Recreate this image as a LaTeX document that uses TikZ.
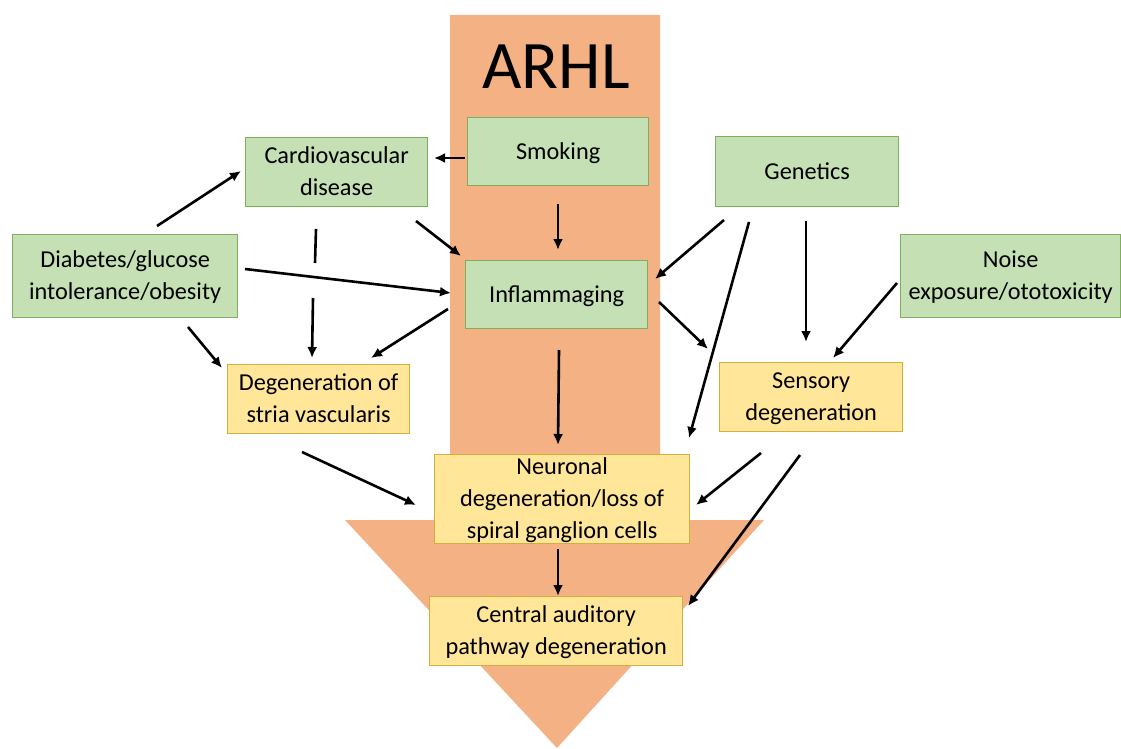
\documentclass[tikz,border=0pt]{standalone}
\usepackage{fontspec}
\setmainfont{Carlito}
\usetikzlibrary{arrows.meta}
\definecolor{arrowfill}{HTML}{F4B183}
\definecolor{greenfill}{HTML}{C5E0B4}
\definecolor{greenline}{HTML}{7FAF5A}
\definecolor{yellowfill}{HTML}{FFE699}
\definecolor{yellowline}{HTML}{D4AE3A}
\begin{document}
\begin{tikzpicture}[x=1pt,y=-1pt,
  box/.style={draw, line width=1.3pt, inner sep=0pt, align=center,
    font=\fontsize{24.3}{32}\selectfont, anchor=north west, text depth=2pt},
  gbox/.style={box, fill=greenfill, draw=greenline},
  ybox/.style={box, fill=yellowfill, draw=yellowline},
  conn/.style={line width=2.6pt, -{Latex[length=11pt,width=10pt]}},
  plain/.style={line width=2.6pt}]
\useasboundingbox (0,0) rectangle (1121,749);
% big background arrow
\fill[arrowfill] (450,15) -- (660,15) -- (660,520) -- (764,520) -- (557,748)
  -- (345,520) -- (450,520) -- cycle;
\node (arhl) at (556,67) {\fontsize{68}{80}\selectfont ARHL};
% boxes
\node[gbox, minimum width=181pt, minimum height=68pt] (smoking) at (467,117) {Smoking};
\node[gbox, minimum width=182pt, minimum height=69pt] (cardio) at (245,137) {Cardiovascular\\disease};
\node[gbox, minimum width=225pt, minimum height=83pt] (diab) at (12,234) {Diabetes/glucose\\intolerance/obesity};
\node[ybox, minimum width=182pt, minimum height=69pt] (stria) at (227,364) {Degeneration of\\stria vascularis};
\node[gbox, minimum width=182pt, minimum height=68pt] (inflam) at (465,260) {Inflammaging};
\node[gbox, minimum width=183pt, minimum height=70pt] (genetics) at (715,136) {Genetics};
\node[gbox, minimum width=220pt, minimum height=83pt] (noise) at (900,234) {Noise\\exposure/ototoxicity};
\node[ybox, minimum width=183pt, minimum height=69pt] (sensory) at (719,362) {Sensory\\degeneration};
\node[ybox, minimum width=255pt, minimum height=89pt] (neuronal) at (434,454) {Neuronal\\degeneration/loss of\\spiral ganglion cells};
\node[ybox, minimum width=253pt, minimum height=69pt] (central) at (429,596) {Central auditory\\pathway degeneration};
% connector end points
\coordinate (smA) at (465,158); \coordinate (smB) at (434,158);
\coordinate (dcA) at (157,226); \coordinate (dcB) at (241,171);
\coordinate (csA) at (316,229); \coordinate (csB) at (315,263);
\coordinate (csC) at (313,298); \coordinate (csD) at (312,358);
\coordinate (ciA) at (416,221); \coordinate (ciB) at (461,256);
\coordinate (diA) at (245,269); \coordinate (diB) at (451,293);
\coordinate (dsA) at (188,327); \coordinate (dsB) at (222,368);
\coordinate (isA) at (448,309); \coordinate (isB) at (371,358);
\coordinate (siA) at (558,204); \coordinate (siB) at (558,250);
\coordinate (inA) at (559,350); \coordinate (inB) at (558,445);
\coordinate (giA) at (724,220); \coordinate (giB) at (655,279);
\coordinate (gnA) at (749,222); \coordinate (gnB) at (689,438);
\coordinate (gsA) at (806,221); \coordinate (gsB) at (806,342);
\coordinate (iyA) at (659,302); \coordinate (iyB) at (708,349);
\coordinate (nsA) at (897,283); \coordinate (nsB) at (833,358);
\coordinate (snA) at (302,452); \coordinate (snB) at (416,505);
\coordinate (ynA) at (761,453); \coordinate (ynB) at (696,505);
\coordinate (ycA) at (800,455); \coordinate (ycB) at (688,606);
\coordinate (ncA) at (558,549); \coordinate (ncB) at (558,596);
% connectors
\draw[conn] (smA) -- (smB);
\draw[conn] (dcA) -- (dcB);
\draw[plain] (csA) -- (csB);
\draw[conn] (csC) -- (csD);
\draw[conn] (ciA) -- (ciB);
\draw[conn] (diA) -- (diB);
\draw[conn] (dsA) -- (dsB);
\draw[conn] (isA) -- (isB);
\draw[conn] (siA) -- (siB);
\draw[conn] (inA) -- (inB);
\draw[conn] (giA) -- (giB);
\draw[conn] (gnA) -- (gnB);
\draw[conn] (gsA) -- (gsB);
\draw[conn] (iyA) -- (iyB);
\draw[conn] (nsA) -- (nsB);
\draw[conn] (snA) -- (snB);
\draw[conn] (ynA) -- (ynB);
\draw[conn] (ycA) -- (ycB);
\draw[conn] (ncA) -- (ncB);
\end{tikzpicture}
\end{document}
